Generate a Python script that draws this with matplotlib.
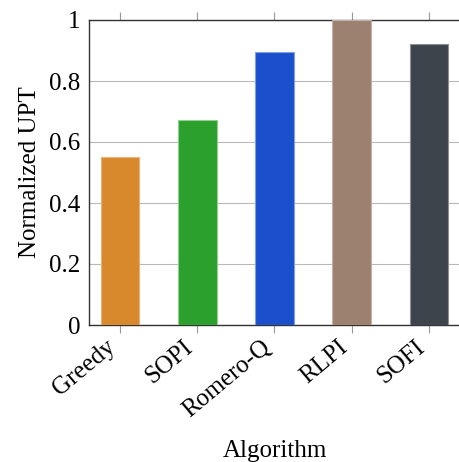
import matplotlib.pyplot as plt

algorithms = ['Greedy', 'SOPI', 'Romero-Q', 'RLPI', 'SOFI']
upt = [0.551, 0.672, 0.895, 1.0, 0.921]
colors = ['#d8892b', '#2ca02c', '#1b4fcc', '#9c8170', '#3d444b']
edges = ['#eab07a', '#8fd08f', '#7f9fe8', '#c4b0a4', '#8a9096']

plt.rcParams['font.family'] = ['Liberation Serif', 'DejaVu Serif']
plt.rcParams['font.size'] = 18

fig = plt.figure(figsize=(4.6, 4.62), dpi=100)
ax = fig.add_axes([89 / 460, 137 / 462, 1 - 89 / 460, 305 / 462])

x = list(range(len(algorithms)))
ax.bar(x, upt, width=0.5, color=colors, edgecolor=edges, linewidth=0.8, zorder=3)

ax.set_xlim(-0.4, 4.4)
ax.set_ylim(0, 1)
ax.set_yticks([0, 0.2, 0.4, 0.6, 0.8, 1])
ax.set_yticklabels(['0', '0.2', '0.4', '0.6', '0.8', '1'])
ax.set_xticks(x)
ax.set_xticklabels(algorithms, rotation=40, ha='right')
ax.yaxis.grid(True, color='#b8b8b8', linewidth=0.8, zorder=0)

ax.tick_params(axis='x', direction='out', length=6, width=0.8, color='#999999',
               top=True, pad=2)
ax.tick_params(axis='y', direction='in', length=0, pad=6)

for side in ['left', 'bottom', 'top', 'right']:
    ax.spines[side].set_color('#333333')
    ax.spines[side].set_linewidth(1.0)

ax.set_xlabel('Algorithm', labelpad=13)
ax.set_ylabel('Normalized UPT', labelpad=6)

fig.savefig('out.png', dpi=100)
